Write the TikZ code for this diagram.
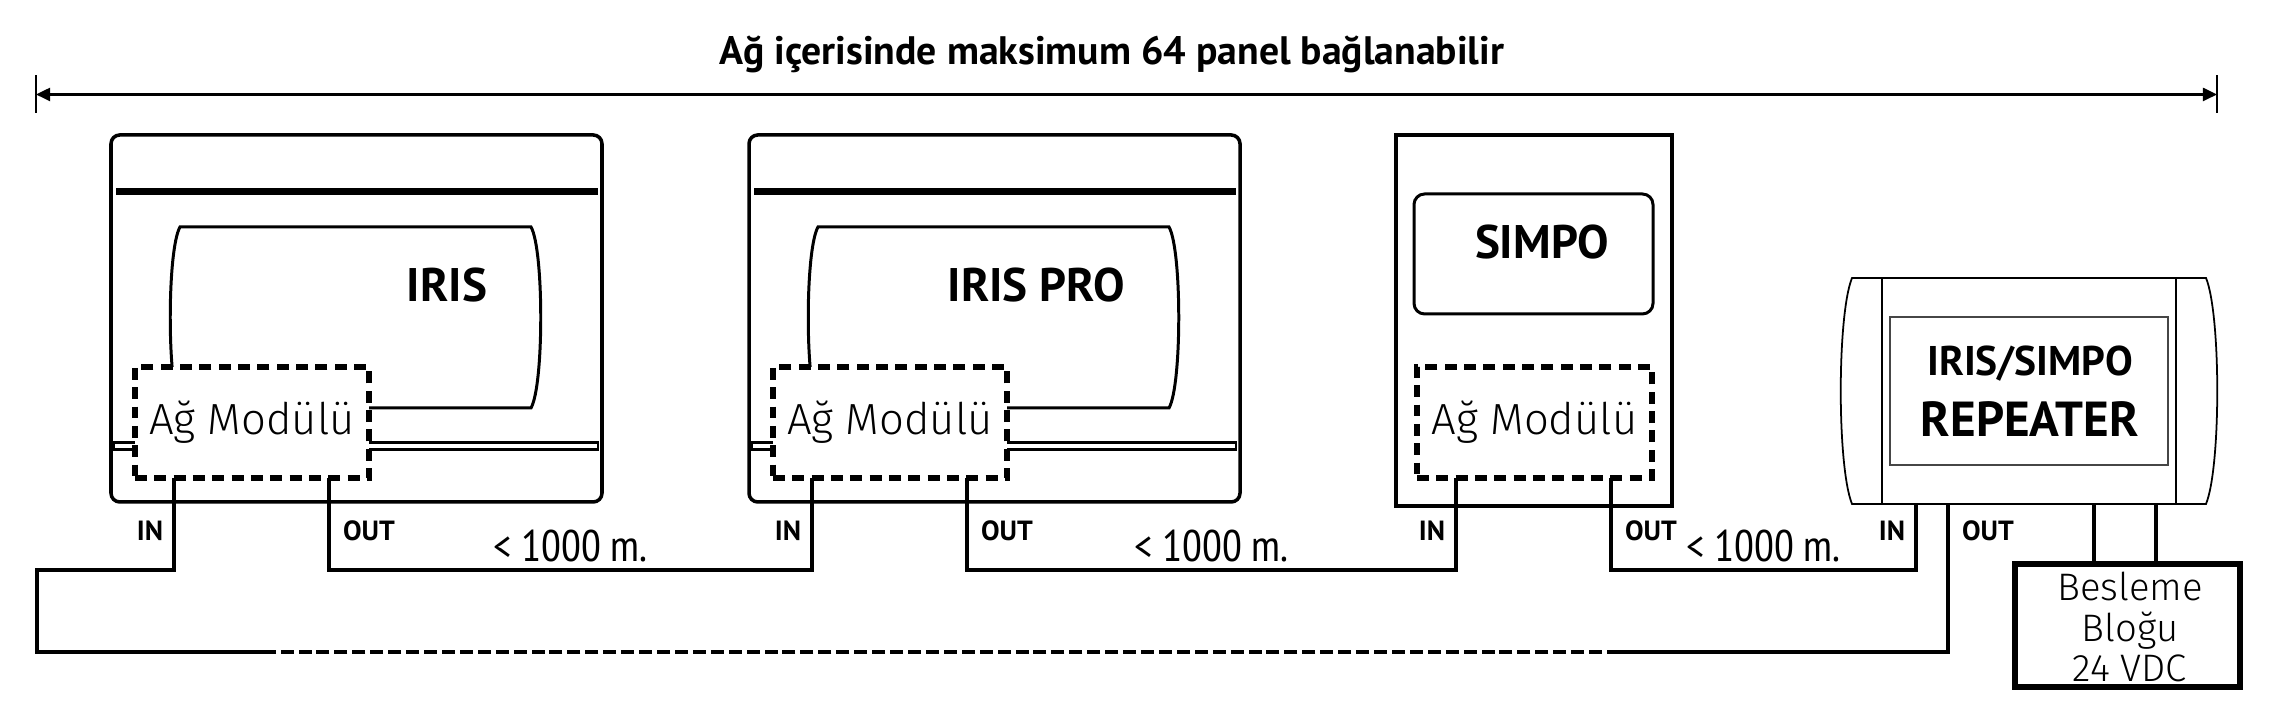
\documentclass[tikz,border=0pt]{standalone}
\usepackage{fontspec}
\setmainfont{PT Sans}
\newfontfamily\narrowfont{PT Sans Narrow}
\newfontfamily\thinfont{Fira Sans Light}
\usepackage{tikz}
\usetikzlibrary{arrows.meta,positioning,calc}
\definecolor{framegray}{RGB}{70,70,70}
\newcommand{\fnTitle}{\bfseries\fontsize{11.3}{13}\selectfont}
\newcommand{\fnName}{\bfseries\fontsize{13.4}{15}\selectfont}
\newcommand{\fnRep}{\bfseries\fontsize{11.8}{13}\selectfont}
\newcommand{\fnRepBig}{\bfseries\fontsize{14}{16}\selectfont}
\newcommand{\fnMod}{\thinfont\fontsize{12.4}{14}\selectfont}
\newcommand{\fnPort}{\bfseries\fontsize{7.9}{9}\selectfont}
\newcommand{\fnDist}{\narrowfont\fontsize{12.6}{14}\selectfont}
\newcommand{\fnPsu}{\thinfont\fontsize{10.9}{11.4}\selectfont}

\begin{document}
\begin{tikzpicture}[
    every node/.style={inner sep=0pt, outer sep=0pt},
    panel/.style={draw, line width=1pt, rounded corners=2.5pt, minimum height=3.67cm},
    module/.style={draw, fill=white, line width=1.7pt, dash pattern=on 3.4pt off 2.1pt,
      minimum width=2.34cm, minimum height=1.11cm, font=\fnMod},
    wire/.style={line width=1.2pt},
    port/.style={font=\fnPort},
    dist/.style={font=\fnDist},
  ]
  \useasboundingbox (0,0) rectangle (22.8,7.2);

  \node[font=\fnTitle] (title) at (11.12,6.66) {Ağ içerisinde maksimum 64 panel bağlanabilir};
  \coordinate (span-l) at (0.36,6.255);
  \coordinate (span-r) at (22.17,6.255);
  \foreach \c in {span-l,span-r}
    \draw[line width=0.45pt] ($(\c)+(0,0.19)$) -- ($(\c)+(0,-0.19)$);
  \draw[line width=0.7pt, {Triangle[length=4pt,width=3.7pt]}-{Triangle[length=4pt,width=3.7pt]}]
    (span-l) -- (span-r);

  \foreach \dx/\nm in {0/iris, 6.38/pro} {
    \begin{scope}[xshift=\dx cm]
      \node[panel, minimum width=4.91cm] (\nm) at (3.565,4.015) {};
      \draw[line width=2pt] (1.16,5.28) -- (5.98,5.28);
      \draw[line width=0.8pt] (1.14,2.705) rectangle (5.98,2.775);
      \draw[line width=0.85pt] (1.80,4.93) -- (5.31,4.93)
        .. controls (5.44,4.70) and (5.44,3.35) .. (5.31,3.12) -- (1.80,3.12)
        .. controls (1.67,3.35) and (1.67,4.70) .. (1.80,4.93) -- cycle;
      \node[module] (\nm-mod) at (2.52,2.975) {Ağ Modülü};
    \end{scope}
  }
  \node[font=\fnName, anchor=east] (iris-name) at (4.87,4.35) {IRIS};
  \node[font=\fnName, anchor=east] (pro-name) at (11.25,4.35) {IRIS PRO};

  \node[draw, line width=1.15pt, minimum width=2.76cm, minimum height=3.71cm] (simpo) at (15.34,3.995) {};
  \node[draw, line width=0.85pt, rounded corners=3pt, minimum width=2.39cm, minimum height=1.20cm]
    (simpo-disp) at (15.335,4.66) {};
  \node[font=\fnName] (simpo-name) at (15.42,4.78) {SIMPO};
  \node[module, minimum width=2.35cm] (simpo-mod) at (15.345,2.975) {Ağ Modülü};

  \foreach \nm in {iris,pro,simpo} {
    \coordinate (\nm-in) at ($(\nm-mod.south west)+(0.39,0)$);
    \coordinate (\nm-out) at ($(\nm-mod.south west)+(1.94,0)$);
  }

  \node (rep) [minimum width=3.54cm, minimum height=2.26cm] at (20.29,3.29) {};
  \draw[line width=0.5pt] (18.52,4.42) -- (22.06,4.42)
    .. controls (22.21,4.05) and (22.21,2.53) .. (22.06,2.16) -- (18.52,2.16)
    .. controls (18.37,2.53) and (18.37,4.05) .. (18.52,4.42) -- cycle;
  \draw[line width=0.7pt] (18.82,4.42) -- (18.82,2.16) (21.76,4.42) -- (21.76,2.16);
  \node[draw=framegray, line width=0.5pt, minimum width=2.78cm, minimum height=1.48cm]
    (rep-disp) at (20.29,3.29) {};
  \node[font=\fnRep] (rep-top) at (20.30,3.56) {IRIS/SIMPO};
  \node[font=\fnRepBig] (rep-name) at (20.30,3.01) {REPEATER};
  \coordinate (rep-in) at (19.16,2.16);
  \coordinate (rep-out) at (19.48,2.16);

  \node[draw, line width=1.7pt, minimum width=2.25cm, minimum height=1.23cm] (psu) at (21.275,0.945) {};
  \node[font=\fnPsu, align=center] (psu-text) at (21.30,0.93) {Besleme\\Bloğu\\24 VDC};
  \foreach \x [count=\i] in {20.94,21.56} {
    \coordinate (rep-p\i) at (\x,2.16);
    \draw[wire] (rep-p\i) -- (rep-p\i |- psu.north);
  }

  \coordinate (bus) at (0,1.5);
  \coordinate (lbl) at (0,1.89);
  \foreach \a/\b in {iris/pro, pro/simpo, simpo/rep}
    \draw[wire] (\a-out) -- (\a-out |- bus) -| node[dist, pos=0.25, yshift=0.24cm] (\a-len) {< 1000 m.} (\b-in);

  \coordinate (ret-a) at (16.2,0.68);
  \coordinate (ret-b) at (2.76,0.68);
  \coordinate (ret-c) at (0.37,0.68);
  \draw[wire] (rep-out) |- (ret-a);
  \draw[wire, dash pattern=on 3.7pt off 1.4pt] (ret-a) -- (ret-b);
  \draw[wire] (ret-b) -- (ret-c) |- (iris-in |- bus) -- (iris-in);

  \foreach \nm in {iris,pro,simpo,rep} {
    \node[port, anchor=east, xshift=-1.1mm] (\nm-inlbl) at (\nm-in |- lbl) {IN};
    \node[port, anchor=west, xshift=1.4mm] (\nm-outlbl) at (\nm-out |- lbl) {OUT};
  }
\end{tikzpicture}
\end{document}
